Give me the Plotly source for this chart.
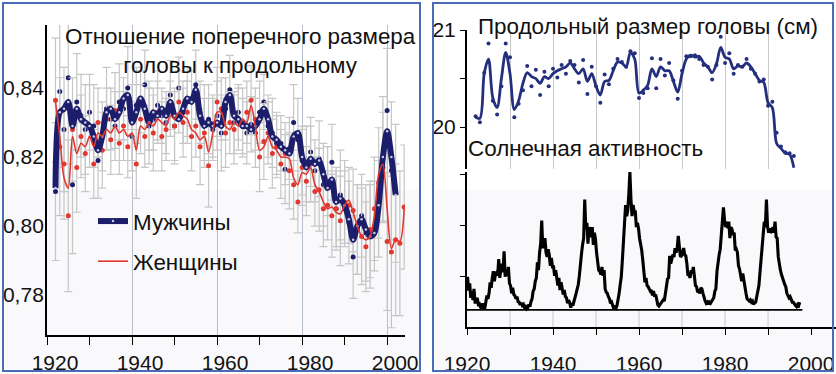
import numpy as np
import plotly.graph_objects as go

# ---------------- data ----------------
# cephalic index (head breadth / head length), yearly
men_years = list(range(1922, 2003))
men_index = [0.810, 0.839, 0.828, 0.843, 0.812, 0.836, 0.832, 0.828, 0.833, 0.829,
             0.819, 0.826, 0.834, 0.831, 0.829, 0.836, 0.834, 0.840, 0.826, 0.835,
             0.836, 0.841, 0.829, 0.831, 0.835, 0.832, 0.830, 0.838, 0.829, 0.840,
             0.833, 0.836, 0.837, 0.841, 0.833, 0.830, 0.831, 0.828, 0.832, 0.827,
             0.834, 0.8395, 0.830, 0.833, 0.830, 0.827, 0.8295, 0.827, 0.833, 0.836,
             0.829, 0.827, 0.824, 0.824, 0.8165, 0.8225, 0.830, 0.825, 0.819, 0.818,
             0.8215, 0.816, 0.8195, 0.812, 0.813, 0.8185, 0.805, 0.809, 0.805, 0.801,
             0.791, 0.799, 0.803, 0.798, 0.797, 0.800, 0.805, 0.817, 0.8335, 0.816,
             0.8095]
men_trend = [0.811, 0.833, 0.834, 0.836, 0.829, 0.834, 0.831, 0.830, 0.829, 0.826,
             0.822, 0.826, 0.833, 0.834, 0.831, 0.833, 0.837, 0.838, 0.830, 0.833,
             0.837, 0.834, 0.830, 0.833, 0.832, 0.834, 0.832, 0.836, 0.832, 0.831,
             0.834, 0.837, 0.836, 0.8395, 0.832, 0.829, 0.830, 0.829, 0.830, 0.829,
             0.836, 0.838, 0.832, 0.831, 0.829, 0.829, 0.828, 0.829, 0.831, 0.834,
             0.831, 0.826, 0.825, 0.823, 0.822, 0.821, 0.826, 0.827, 0.820, 0.817,
             0.8195, 0.818, 0.819, 0.815, 0.811, 0.8135, 0.807, 0.808, 0.806, 0.802,
             0.796, 0.800, 0.802, 0.799, 0.797, 0.798, 0.806, 0.820, 0.8275, 0.820,
             0.809]
men_err = [0.020, 0.022, 0.018, 0.025, 0.020, 0.014, 0.012, 0.013, 0.011, 0.012,
           0.011, 0.010, 0.012, 0.009, 0.010, 0.011, 0.009, 0.012, 0.010, 0.011,
           0.009, 0.010, 0.011, 0.009, 0.010, 0.008, 0.009, 0.010, 0.011, 0.009,
           0.009, 0.010, 0.008, 0.010, 0.009, 0.011, 0.010, 0.009, 0.010, 0.011,
           0.009, 0.010, 0.009, 0.008, 0.010, 0.009, 0.008, 0.010, 0.009, 0.008,
           0.009, 0.010, 0.009, 0.008, 0.010, 0.009, 0.011, 0.012, 0.010, 0.011,
           0.010, 0.009, 0.011, 0.012, 0.010, 0.011, 0.012, 0.013, 0.011, 0.012,
           0.012, 0.013, 0.012, 0.014, 0.015, 0.013, 0.014, 0.016, 0.018, 0.020,
           0.020]

women_years = list(range(1922, 2005))
women_index = [0.8365, 0.823, 0.818, 0.803, 0.828, 0.817, 0.826, 0.821, 0.829, 0.818,
               0.830, 0.822, 0.831, 0.825, 0.8335, 0.824, 0.829, 0.823, 0.830, 0.818,
               0.831, 0.826, 0.832, 0.827, 0.833, 0.826, 0.828, 0.834, 0.829, 0.836,
               0.830, 0.833, 0.826, 0.829, 0.823, 0.827, 0.8175, 0.829, 0.836, 0.834,
               0.827, 0.830, 0.828, 0.831, 0.829, 0.833, 0.8365, 0.831, 0.820, 0.8245,
               0.827, 0.821, 0.823, 0.818, 0.821, 0.816, 0.812, 0.807, 0.817, 0.813,
               0.818, 0.810, 0.8105, 0.805, 0.806, 0.803, 0.805, 0.8015, 0.807, 0.806,
               0.8045, 0.799, 0.797, 0.794, 0.799, 0.805, 0.8125, 0.8195, 0.7955, 0.7925,
               0.796, 0.795, 0.8055]
women_trend = [0.836, 0.826, 0.814, 0.811, 0.826, 0.821, 0.824, 0.823, 0.826, 0.823,
               0.827, 0.826, 0.828, 0.827, 0.829, 0.827, 0.828, 0.826, 0.827, 0.822,
               0.829, 0.828, 0.830, 0.829, 0.831, 0.830, 0.829, 0.832, 0.831, 0.833,
               0.832, 0.831, 0.828, 0.827, 0.825, 0.826, 0.8215, 0.827, 0.833, 0.833,
               0.829, 0.828, 0.830, 0.829, 0.831, 0.830, 0.835, 0.829, 0.822, 0.823,
               0.826, 0.823, 0.822, 0.820, 0.820, 0.8195, 0.814, 0.812, 0.8155, 0.815,
               0.817, 0.812, 0.810, 0.807, 0.805, 0.8055, 0.804, 0.8035, 0.806, 0.8075,
               0.804, 0.800, 0.797, 0.796, 0.797, 0.803, 0.815, 0.818, 0.805, 0.7935,
               0.796, 0.7955, 0.805]
women_err = [0.018, 0.020, 0.016, 0.022, 0.015, 0.013, 0.012, 0.011, 0.012, 0.010,
             0.010, 0.011, 0.009, 0.010, 0.011, 0.009, 0.010, 0.009, 0.011, 0.010,
             0.010, 0.009, 0.010, 0.011, 0.009, 0.010, 0.009, 0.008, 0.010, 0.009,
             0.010, 0.009, 0.010, 0.009, 0.011, 0.010, 0.012, 0.009, 0.010, 0.009,
             0.010, 0.009, 0.010, 0.009, 0.008, 0.009, 0.010, 0.009, 0.010, 0.011,
             0.009, 0.010, 0.009, 0.010, 0.009, 0.011, 0.010, 0.009, 0.011, 0.010,
             0.011, 0.010, 0.012, 0.011, 0.010, 0.012, 0.011, 0.013, 0.012, 0.011,
             0.012, 0.013, 0.014, 0.013, 0.014, 0.015, 0.016, 0.018, 0.020, 0.022,
             0.022, 0.021, 0.018]

# head length (cm), yearly
head_years = list(range(1922, 1997))
head_len = [20.11, 20.05, 20.56, 20.86, 20.27, 20.13, 20.42, 20.86, 20.72, 20.10,
            20.24, 20.38, 20.63, 20.42, 20.59, 20.33, 20.57, 20.42, 20.60, 20.51,
            20.64, 20.55, 20.68, 20.64, 20.46, 20.69, 20.34, 20.62, 20.42, 20.25,
            20.54, 20.44, 20.60, 20.70, 20.67, 20.62, 20.78, 20.76, 20.30, 20.35,
            20.40, 20.71, 20.40, 20.70, 20.53, 20.66, 20.48, 20.29, 20.58, 20.73,
            20.73, 20.74, 20.70, 20.64, 20.62, 20.49, 20.64, 20.93, 20.66, 20.76,
            20.55, 20.64, 20.62, 20.70, 20.60, 20.55, 20.47, 20.49, 20.22, 20.26,
            19.94, 19.80, 19.74, 19.73, 19.70]
head_trend = [20.10, 20.09, 20.55, 20.70, 20.30, 20.20, 20.50, 20.77, 20.55, 20.18,
              20.27, 20.45, 20.56, 20.52, 20.50, 20.45, 20.52, 20.50, 20.55, 20.58,
              20.60, 20.62, 20.66, 20.60, 20.55, 20.60, 20.47, 20.55, 20.42, 20.33,
              20.47, 20.48, 20.58, 20.67, 20.66, 20.62, 20.77, 20.70, 20.35, 20.38,
              20.43, 20.60, 20.52, 20.62, 20.58, 20.58, 20.47, 20.36, 20.55, 20.70,
              20.74, 20.72, 20.73, 20.66, 20.62, 20.56, 20.65, 20.82, 20.72, 20.70,
              20.60, 20.63, 20.62, 20.66, 20.62, 20.55, 20.48, 20.46, 20.25, 20.20,
              19.83, 19.78, 19.73, 19.72, 19.58]

# sunspot number, quarterly from 1920
sun_start = 1920
sunspots = [60, 35, 48, 22, 34, 18, 38, 14, 14, 22, 10, 11, 5, 3, 12, 4,
            2, 18, 26, 20, 30, 50, 40, 58, 70, 52, 66, 68, 62, 92, 58, 74,
            84, 68, 106, 60, 72, 62, 78, 48, 44, 30, 40, 28, 26, 20, 24, 15,
            14, 9, 13, 8, 10, 4, 6, 2, 4, 10, 6, 15, 20, 34, 38, 52,
            58, 86, 72, 104, 120, 162, 112, 118, 130, 104, 96, 110, 100, 80, 94, 78,
            78, 62, 72, 58, 44, 58, 36, 50, 34, 28, 36, 24, 22, 12, 18, 13,
            4, 12, 8, 14, 20, 30, 38, 46, 62, 90, 102, 118, 130, 200, 146, 158,
            120, 150, 142, 132, 150, 118, 140, 128, 104, 88, 72, 70, 64, 78, 62, 72,
            38, 32, 30, 24, 20, 12, 14, 8, 2, 5, 3, 8, 18, 30, 46, 60,
            90, 120, 160, 190, 170, 180, 210, 250, 200, 170, 190, 178, 180, 150, 158, 148,
            130, 120, 108, 90, 62, 50, 58, 44, 42, 38, 34, 36, 26, 34, 24, 28,
            14, 9, 7, 10, 12, 14, 18, 16, 30, 44, 56, 58, 98, 84, 96, 100,
            96, 112, 104, 112, 134, 120, 96, 98, 108, 112, 100, 98, 84, 62, 64, 58,
            72, 66, 78, 58, 44, 42, 32, 34, 30, 40, 38, 30, 20, 16, 12, 14,
            10, 14, 12, 16, 18, 22, 34, 38, 70, 90, 100, 110, 140, 150, 186, 164,
            150, 160, 148, 160, 130, 150, 146, 136, 140, 108, 110, 104, 80, 74, 60, 52,
            66, 52, 36, 30, 20, 18, 16, 18, 14, 16, 10, 13, 14, 24, 34, 44,
            68, 90, 112, 130, 160, 150, 200, 152, 140, 148, 140, 142, 150, 140, 160, 132,
            130, 96, 80, 72, 64, 56, 52, 46, 42, 30, 26, 22, 24, 18, 14, 14,
            10, 8, 6, 10, 8, 14]
sun_x = sun_start + 0.125 + 0.25 * np.arange(len(sunspots))

# ---------------- styling ----------------
W, H = 836, 374
FONT = "Arial, 'Liberation Sans', sans-serif"
NAVY = "#1c1d6b"
RED = "#e2372f"
ERR = "#c6c6c6"
FRAME = "#4a6cb8"
TXT = 22.4
TICK = 21


def px(x):
    return x / W


def py(y):
    return 1 - y / H


fig = go.Figure()

# left panel: error bars with raw yearly points
fig.add_trace(go.Scatter(
    x=men_years, y=men_index, mode="markers", showlegend=False,
    marker=dict(color=NAVY, size=5),
    error_y=dict(type="data", array=men_err, color=ERR, thickness=1.2, width=4),
    xaxis="x", yaxis="y"))
fig.add_trace(go.Scatter(
    x=women_years, y=women_index, mode="markers", showlegend=False,
    marker=dict(color=RED, size=5),
    error_y=dict(type="data", array=women_err, color=ERR, thickness=1.2, width=4),
    xaxis="x", yaxis="y"))
# smoothed curves
fig.add_trace(go.Scatter(
    x=men_years, y=men_trend, mode="lines+markers", name="Мужчины",
    line=dict(color=NAVY, width=6, shape="spline", smoothing=0.8),
    marker=dict(color="#c9cce2", size=2.5),
    legendgroup="m", xaxis="x", yaxis="y"))
fig.add_trace(go.Scatter(
    x=women_years, y=women_trend, mode="lines", name="Женщины",
    line=dict(color=RED, width=1.6, shape="spline", smoothing=0.8),
    legendgroup="w", xaxis="x", yaxis="y"))

# right top: head length
fig.add_trace(go.Scatter(
    x=head_years, y=head_len, mode="markers", showlegend=False,
    marker=dict(color="#24307e", size=4), xaxis="x2", yaxis="y2"))
fig.add_trace(go.Scatter(
    x=head_years, y=head_trend, mode="lines", showlegend=False,
    line=dict(color="#24307e", width=2.8, shape="spline", smoothing=0.9),
    xaxis="x2", yaxis="y2"))

# right bottom: sunspots
fig.add_trace(go.Scatter(
    x=[sun_x[0] - 0.125, sun_x[-1] + 0.6], y=[0, 0], mode="lines", showlegend=False,
    line=dict(color="black", width=1.6), xaxis="x3", yaxis="y3"))
fig.add_trace(go.Scatter(
    x=sun_x, y=sunspots, mode="lines", showlegend=False,
    line=dict(color="black", width=3.1), xaxis="x3", yaxis="y3"))

axis_common = dict(showline=True, linecolor="black", linewidth=2, zeroline=False,
                   automargin=False, layer="above traces",
                   tickfont=dict(size=TICK, color="#111", family=FONT))

shapes = []
# light tint in lower part of both panels
for x0, x1 in [(5, 419), (435, 832)]:
    shapes.append(dict(type="rect", xref="paper", yref="paper", layer="below",
                       x0=px(x0), x1=px(x1), y0=py(369), y1=py(190),
                       fillcolor="#f9f9fb", line=dict(width=0)))
# grey decade marks between sunspot baseline and axis
for yr in range(1930, 2000, 10):
    shapes.append(dict(type="line", xref="x3", yref="y3", layer="below",
                       x0=yr, x1=yr, y0=0, y1=-31,
                       line=dict(color="#c3c8d2", width=1)))
# panel frames
for x0, x1 in [(3, 420), (433, 833)]:
    shapes.append(dict(type="rect", xref="paper", yref="paper",
                       x0=px(x0), x1=px(x1), y0=py(371), y1=py(3),
                       line=dict(color=FRAME, width=2), fillcolor="rgba(0,0,0,0)"))

annotations = [
    dict(text="Отношение поперечного размера<br>головы к продольному",
         x=px(240), y=py(51), xref="paper", yref="paper", showarrow=False,
         xanchor="center", yanchor="middle", font=dict(size=TXT, color="#111")),
    dict(text="Продольный размер головы (см)", x=px(648), y=py(26),
         xref="paper", yref="paper", showarrow=False, xanchor="center",
         yanchor="middle", font=dict(size=TXT, color="#111")),
    dict(text="Солнечная активность", x=px(466), y=py(148),
         xref="paper", yref="paper", showarrow=False, xanchor="left",
         yanchor="middle", font=dict(size=TXT, color="#111")),
]

fig.update_layout(
    width=W, height=H, margin=dict(l=0, r=0, t=0, b=0, autoexpand=False),
    paper_bgcolor="white", plot_bgcolor="rgba(0,0,0,0)",
    font=dict(family=FONT, size=TXT, color="#111"),
    separators=", ",
    showlegend=True,
    legend=dict(x=px(93), y=py(200), xanchor="left", yanchor="top",
                bgcolor="rgba(0,0,0,0)", font=dict(size=TXT),
                traceorder="grouped", tracegroupgap=8, itemwidth=30),
    xaxis=dict(domain=[px(47), px(405)], range=[1920, 2004.2], anchor="y",
               tick0=1920, dtick=20, ticks="outside", ticklen=8, tickcolor="black",
               showgrid=True, gridcolor="#b7bfcd", gridwidth=1,
               minor=dict(dtick=10, ticks="outside", ticklen=8, tickcolor="black",
                          showgrid=False),
               ticklabelshift=8, **axis_common),
    yaxis=dict(domain=[py(335), py(25)], range=[0.7684, 0.8583], anchor="x",
               tickvals=[0.78, 0.80, 0.82, 0.84], tickformat=".2f", ticks="",
               showgrid=False, ticklabelstandoff=-3, **axis_common),
    xaxis2=dict(domain=[px(467), px(836)], range=[1920, 2005.8], anchor="y2",
                tickvals=list(range(1930, 2000, 10)), showticklabels=False,
                ticks="", showgrid=True, gridcolor="#c9c9c9", gridwidth=1,
                showline=False, zeroline=False, automargin=False),
    yaxis2=dict(domain=[py(169), py(30)], range=[19.567, 21], anchor="x2",
                tickvals=[20, 20.5, 21], ticktext=["20", "", "21"],
                ticks="outside", ticklen=5, tickcolor="black", showgrid=False,
                **axis_common),
    xaxis3=dict(domain=[px(467), px(836)], range=[1920, 2005.8], anchor="y3",
                tick0=1920, dtick=20, ticks="outside", ticklen=6, tickcolor="black",
                showgrid=False,
                minor=dict(dtick=10, ticks="outside", ticklen=6, tickcolor="black"),
                ticklabelstandoff=11, **axis_common),
    yaxis3=dict(domain=[py(327), py(172)], range=[-31, 250], anchor="x3",
                tickvals=[60, 153, 245], showticklabels=False, ticks="outside",
                ticklen=5, tickcolor="black", showgrid=False, **axis_common),
    shapes=shapes,
    annotations=annotations,
)

fig.write_html("out.html")
